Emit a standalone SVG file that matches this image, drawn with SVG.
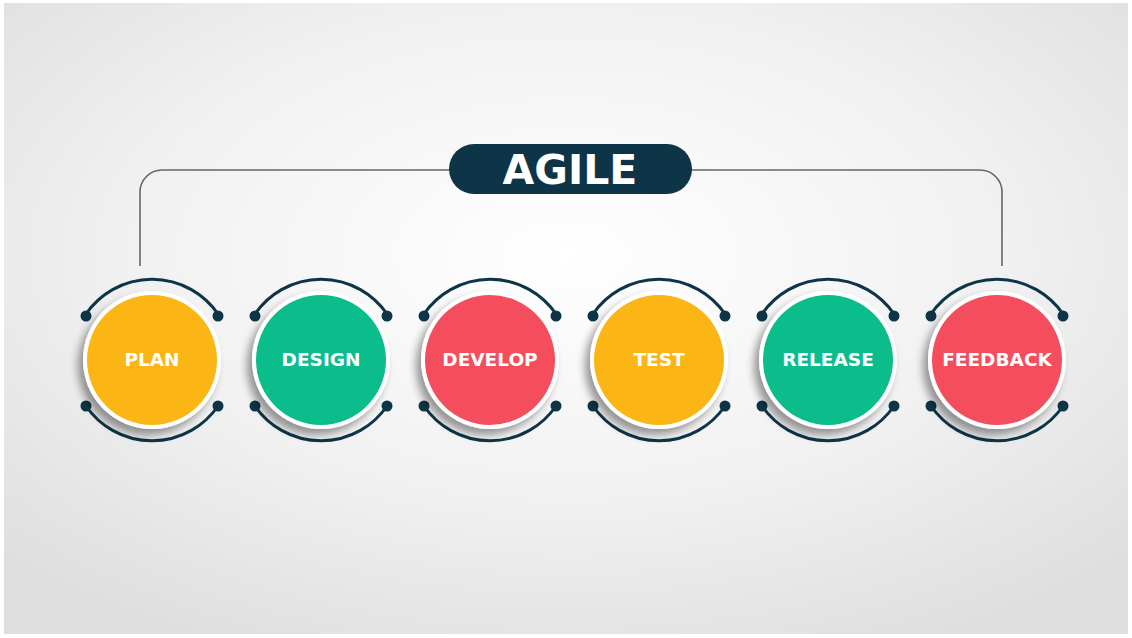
<svg xmlns="http://www.w3.org/2000/svg" width="1132" height="638" viewBox="0 0 1132 638">
  <defs>
    <radialGradient id="bg" cx="50%" cy="40%" r="70%">
      <stop offset="0" stop-color="#ffffff"/>
      <stop offset="0.55" stop-color="#f1f1f1"/>
      <stop offset="1" stop-color="#dedede"/>
    </radialGradient>
    <filter id="sh" x="-40%" y="-40%" width="180%" height="180%">
      <feGaussianBlur in="SourceAlpha" stdDeviation="4.5"/>
      <feOffset dx="-5" dy="6" result="b"/>
      <feComponentTransfer><feFuncA type="linear" slope="0.4"/></feComponentTransfer>
      <feMerge><feMergeNode/><feMergeNode in="SourceGraphic"/></feMerge>
    </filter>
    <style>
      .ring{fill:#ffffff;filter:url(#sh)}
      .arc{fill:none;stroke:#0d3447;stroke-width:3}
      .dot{fill:#0d3447}
      .lbl{font-family:"DejaVu Sans","Liberation Sans",sans-serif;font-weight:700;font-size:18.5px;fill:#ffffff;text-anchor:middle;dominant-baseline:central}
      .y{fill:#fbb514}
      .g{fill:#0bbd8b}
      .r{fill:#f44e5e}
      .conn{fill:none;stroke:#5c6a70;stroke-width:1.6}
    </style>
    <g id="deco">
      <path class="arc" d="M-66,-46 A80,80 0 0 1 66,-46"/>
      <path class="arc" d="M-66,46 A80,80 0 0 0 66,46"/>
      <circle class="dot" cx="-66" cy="-44" r="5.5"/>
      <circle class="dot" cx="66" cy="-44" r="5.5"/>
      <circle class="dot" cx="-66" cy="46" r="5.5"/>
      <circle class="dot" cx="66" cy="46" r="5.5"/>
      <circle class="ring" cx="0" cy="0" r="69"/>
    </g>
  </defs>

  <rect x="0" y="0" width="1132" height="638" fill="#ffffff"/>
  <rect x="4" y="3" width="1124" height="631" fill="url(#bg)"/>

  <g id="connectors">
    <path class="conn" d="M140,266 V192 A22,22 0 0 1 162,170 H450"/>
    <path class="conn" d="M691,170 H980 A22,22 0 0 1 1002,192 V266"/>
  </g>

  <g id="agile">
    <rect x="449" y="144" width="243" height="50" rx="25" fill="#0d3447"/>
    <text x="570" y="170" font-family="'DejaVu Sans','Liberation Sans',sans-serif" font-weight="700" font-size="41" fill="#ffffff" text-anchor="middle" dominant-baseline="central">AGILE</text>
  </g>

  <g id="plan" transform="translate(152,360)">
    <use href="#deco"/>
    <circle class="y" r="65"/>
    <text class="lbl" x="0" y="-1">PLAN</text>
  </g>
  <g id="design" transform="translate(321,360)">
    <use href="#deco"/>
    <circle class="g" r="65"/>
    <text class="lbl" x="0" y="-1">DESIGN</text>
  </g>
  <g id="develop" transform="translate(490,360)">
    <use href="#deco"/>
    <circle class="r" r="65"/>
    <text class="lbl" x="0" y="-1">DEVELOP</text>
  </g>
  <g id="test" transform="translate(659,360)">
    <use href="#deco"/>
    <circle class="y" r="65"/>
    <text class="lbl" x="0" y="-1">TEST</text>
  </g>
  <g id="release" transform="translate(828,360)">
    <use href="#deco"/>
    <circle class="g" r="65"/>
    <text class="lbl" x="0" y="-1">RELEASE</text>
  </g>
  <g id="feedback" transform="translate(997,360)">
    <use href="#deco"/>
    <circle class="r" r="65"/>
    <text class="lbl" x="0" y="-1">FEEDBACK</text>
  </g>
</svg>
